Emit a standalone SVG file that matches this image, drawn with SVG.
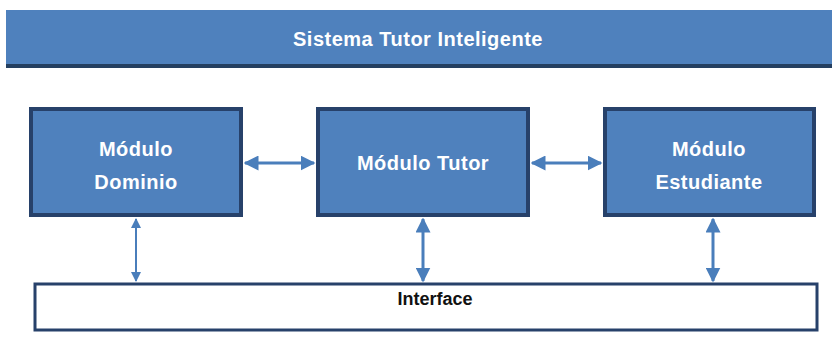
<svg xmlns="http://www.w3.org/2000/svg" width="832" height="356" viewBox="0 0 832 356">
<style>
.mod{fill:#4F81BD;stroke:#27416A;stroke-width:4}
.lbl{font-family:"Liberation Sans",Arial,sans-serif;font-weight:bold;font-size:20px;fill:#FFFFFF;text-anchor:middle;letter-spacing:0.5px}
.conn{stroke:#4A7EBB;stroke-width:3;fill:none;marker-start:url(#ah);marker-end:url(#ah)}
</style>
<defs>
<marker id="ah" viewBox="0 0 10 10" refX="9" refY="5" markerWidth="5" markerHeight="5" orient="auto-start-reverse" markerUnits="strokeWidth">
<path d="M0,0 L10,5 L0,10 z" fill="#4A7EBB"/>
</marker>
</defs>
<rect width="832" height="356" fill="#FFFFFF"/>
<g id="title">
<rect x="6" y="10" width="830" height="56" fill="#4F81BD"/>
<rect x="6" y="64" width="830" height="4" fill="#243F60"/>
<text class="lbl" x="418" y="46">Sistema Tutor Inteligente</text>
</g>
<g id="dominio">
<rect class="mod" x="31" y="109" width="210" height="106"/>
<text class="lbl" x="136" y="156">Módulo</text>
<text class="lbl" x="136" y="189">Dominio</text>
</g>
<g id="tutor">
<rect class="mod" x="318" y="109" width="210" height="106"/>
<text class="lbl" x="423" y="170">Módulo Tutor</text>
</g>
<g id="estudiante">
<rect class="mod" x="605" y="109" width="209" height="106"/>
<text class="lbl" x="709" y="156">Módulo</text>
<text class="lbl" x="709" y="189">Estudiante</text>
</g>
<g id="interface">
<rect x="35" y="284" width="782" height="46" fill="#FFFFFF" stroke="#27416A" stroke-width="3"/>
<text x="435" y="305" font-family="'Liberation Sans',Arial,sans-serif" font-weight="bold" font-size="18" fill="#111111" text-anchor="middle">Interface</text>
</g>
<g id="connectors">
<line class="conn" x1="245" y1="163" x2="314" y2="163"/>
<line class="conn" x1="532" y1="163" x2="601" y2="163"/>
<line class="conn" x1="136" y1="219" x2="136" y2="281" style="stroke-width:2"/>
<line class="conn" x1="423" y1="219" x2="423" y2="281"/>
<line class="conn" x1="713" y1="219" x2="713" y2="281"/>
</g>
</svg>
